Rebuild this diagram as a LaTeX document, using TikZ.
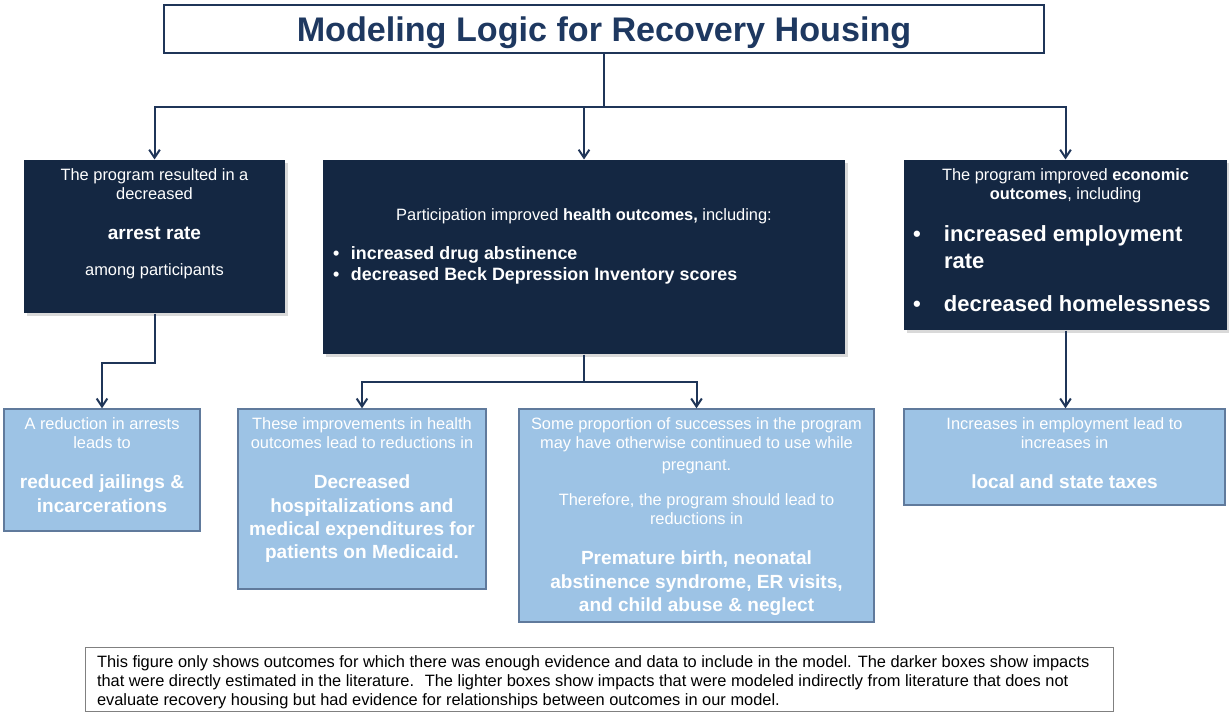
\documentclass[tikz,border=0pt]{standalone}
\usepackage{fontspec}
\setmainfont{Liberation Sans}
\usetikzlibrary{arrows.meta,shadows}

\definecolor{navyfill}{RGB}{20,39,66}
\definecolor{navyline}{RGB}{31,53,88}
\definecolor{titleblue}{RGB}{30,56,96}
\definecolor{lightfill}{RGB}{157,195,229}
\definecolor{lightedge}{RGB}{96,122,156}
\definecolor{noteedge}{RGB}{128,128,128}

\newcommand{\smalltxt}{\fontsize{12.3}{14.3}\selectfont\mdseries}
\newcommand{\boldtxt}{\fontsize{14.3}{17.5}\selectfont\bfseries}
\newcommand{\notetxt}{\fontsize{12.3}{14.25}\selectfont}
\newcommand{\blockgap}{\par\vspace{12.5pt}}

\tikzset{every picture/.style={line width=0.75pt}}
\tikzset{
  titlebox/.style={draw=navyline, line width=1.5pt, fill=white, text=titleblue,
    minimum width=660pt, minimum height=36pt, inner sep=0pt, text depth=0pt,
    font=\fontsize{25.6}{30}\selectfont\bfseries},
  darkbox/.style={fill=navyfill, text=white, inner sep=0pt,
    drop shadow={shadow xshift=2pt, shadow yshift=-2pt, opacity=0.3}},
  lightbox/.style={fill=lightfill, draw=lightedge, line width=1pt, text=white, inner sep=0pt},
  notebox/.style={draw=noteedge, line width=0.75pt, fill=white, text=black, inner sep=0pt},
  link/.style={draw=navyline, line width=1.5pt},
  conn/.style={link, -{Straight Barb[length=6pt,width=8pt]}}
}

\begin{document}
\begin{tikzpicture}[x=0.75pt,y=0.75pt,yscale=-1,xscale=1]
\useasboundingbox (0,0) rectangle (1229,713);

% Title
\node[titlebox] (title) at (604,29) {Modeling Logic for Recovery Housing};

% Directly estimated impacts
\node[darkbox] (arrest) at (154.5,236.5) {\parbox[c][114.75pt][t]{195.75pt}{\vspace*{6.75pt}\centering
  \smalltxt The program resulted in a\\decreased\blockgap
  \boldtxt arrest rate\blockgap
  \smalltxt among participants\par}};
\node[darkbox] (health) at (584,257) {\parbox[c][145.5pt][t]{391.5pt}{\vspace*{36.5pt}\centering
  \smalltxt Participation improved \textbf{health outcomes,} including:\par
  \vspace{13.5pt}\raggedright\fontsize{13.4}{15.75}\selectfont\bfseries
  \hspace*{7.5pt}\makebox[13.5pt][l]{\textbullet}increased drug abstinence\par
  \hspace*{7.5pt}\makebox[13.5pt][l]{\textbullet}decreased Beck Depression Inventory scores\par}};
\node[darkbox] (econ) at (1065.5,245) {\parbox[c][127.5pt][t]{242.25pt}{\vspace*{6.75pt}\centering
  \smalltxt The program improved \textbf{economic}\\\textbf{outcomes}, including\par
  \vspace{11.25pt}\raggedright\fontsize{16.5}{20.25}\selectfont\bfseries
  \hangindent=30pt\hangafter=1\hspace*{6.75pt}\makebox[23.25pt][l]{\textbullet}increased employment\newline rate\par
  \vspace{12pt}
  \hangindent=30pt\hangafter=1\hspace*{6.75pt}\makebox[23.25pt][l]{\textbullet}decreased homelessness\par}};

% Indirectly modeled impacts
\node[lightbox] (jail) at (102,470) {\parbox[c][91.5pt][t]{147pt}{\vspace*{6.75pt}\centering
  \smalltxt A reduction in arrests\\leads to\blockgap
  \boldtxt reduced jailings \&\\incarcerations\par}};
\node[lightbox] (hosp) at (362,499) {\parbox[c][135pt][t]{186pt}{\vspace*{6.75pt}\centering
  \smalltxt These improvements in health\\outcomes lead to reductions in\blockgap
  \boldtxt Decreased\\hospitalizations and\\medical expenditures for\\patients on Medicaid.\par}};
\node[lightbox] (preg) at (696.5,515.5) {\parbox[c][159.75pt][t]{266.25pt}{\vspace*{6.75pt}\centering
  \smalltxt Some proportion of successes in the program\\may have otherwise continued to use while\\[1.5pt]pregnant.\blockgap
  Therefore, the program should lead to\\reductions in\blockgap
  \boldtxt Premature birth, neonatal\\abstinence syndrome, ER visits,\\and child abuse \& neglect\par}};
\node[lightbox] (taxes) at (1064.5,457) {\parbox[c][72pt][t]{240.75pt}{\vspace*{6.75pt}\centering
  \smalltxt Increases in employment lead to\\increases in\blockgap
  \boldtxt local and state taxes\par}};

% Note
\node[notebox] (note) at (599,679) {\parbox[c][48pt][t]{771pt}{\vspace*{6.6pt}\raggedright\leftskip=9pt
  \notetxt This figure only shows outcomes for which there was enough evidence and data to include in the model. The darker boxes show impacts\\
  that were directly estimated in the literature.~ The lighter boxes show impacts that were modeled indirectly from literature that does not\\
  evaluate recovery housing but had evidence for relationships between outcomes in our model.\par}};

% Connectors
\coordinate (bus) at (604,107);
\draw[link] (title.south) -- (bus);
\draw[conn] (bus) -| (arrest.north);
\draw[conn] (bus) -| (health.north);
\draw[conn] (bus) -| (econ.north);
\draw[conn] (arrest.south) -- ++(0,49) -| (jail.north);
\draw[link] (health.south) -- ++(0,27) coordinate (fork);
\draw[conn] (fork) -| (hosp.north);
\draw[conn] (fork) -| (preg.north);
\draw[conn] (econ.south) -- (econ.south |- taxes.north);

\end{tikzpicture}
\end{document}
